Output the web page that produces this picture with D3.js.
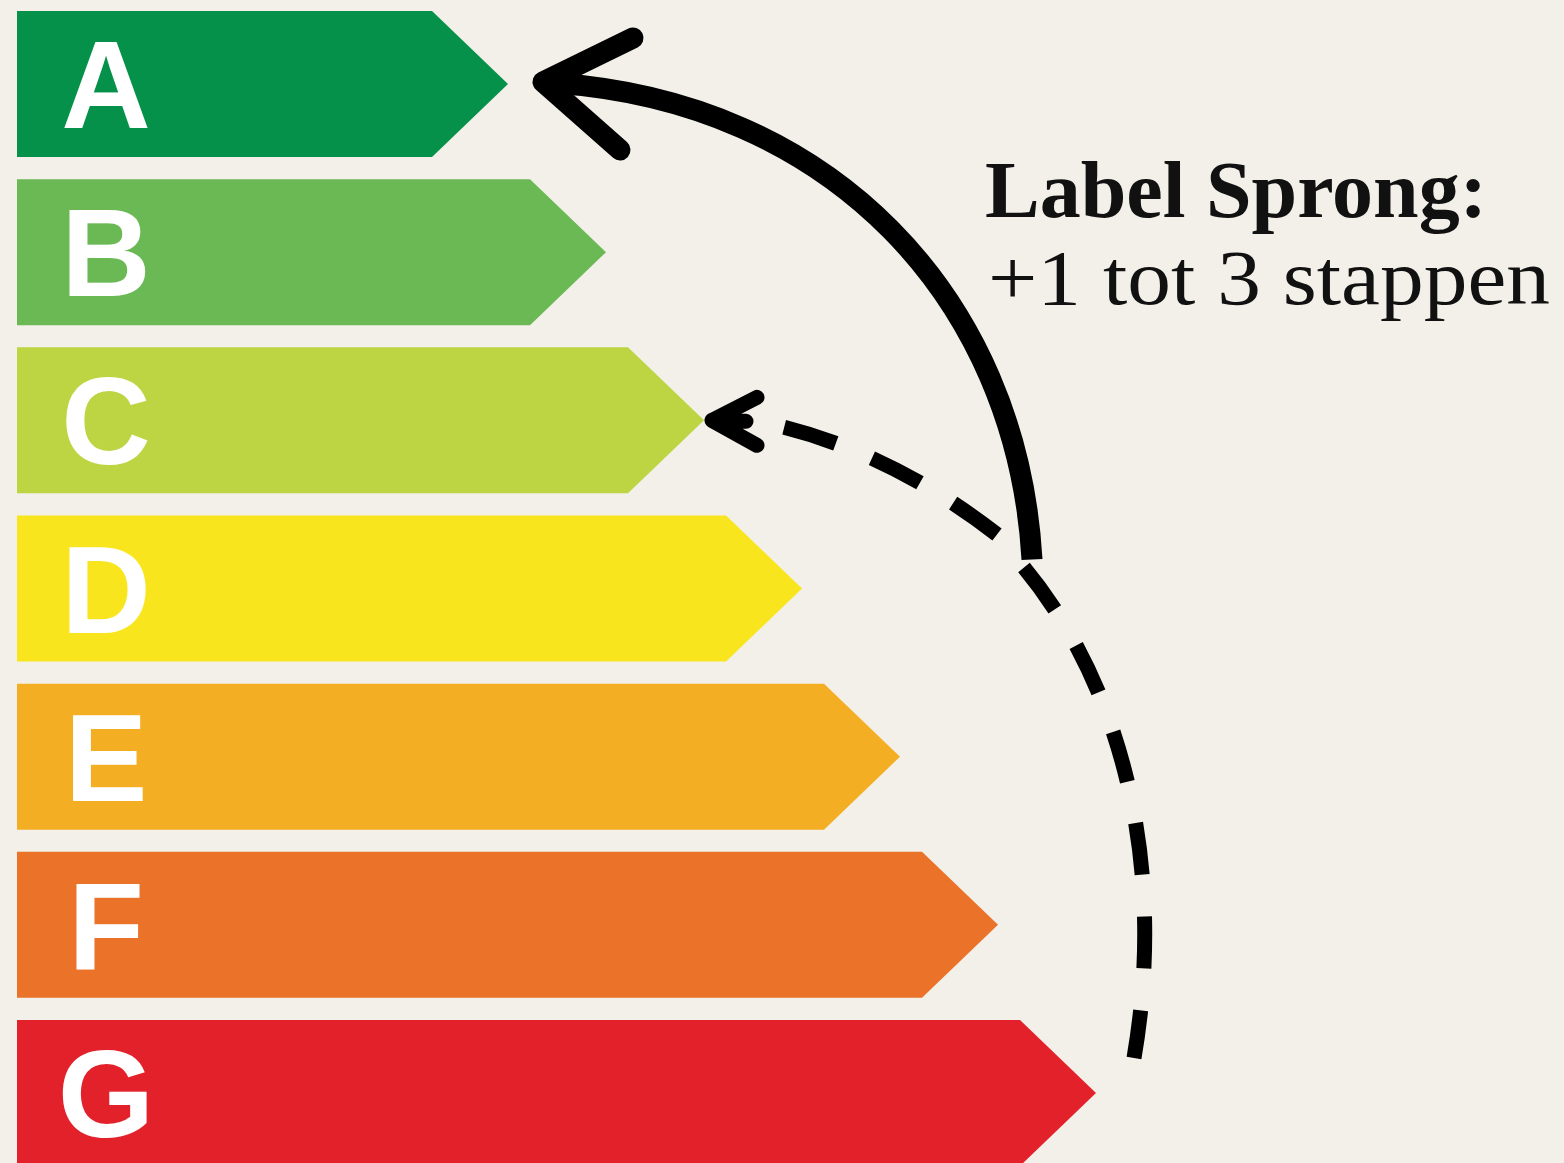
<!DOCTYPE html>
<html>
  <head>
    <meta charset="utf-8">
    <title>Label Sprong</title>
    <script src="https://cdn.jsdelivr.net/npm/d3@7"></script>
    <style>
      html, body { margin: 0; padding: 0; background: #f3f0e9; overflow: hidden; }
      svg { display: block; }
    </style>
  </head>
  <body>
    <script type="text/javascript">

    // energy label classes, best to worst
    var labels = ["A", "B", "C", "D", "E", "F", "G"];
    var steps = [1, 2, 3, 4, 5, 6, 7];
    var colors = ["#06914a", "#6bb955", "#bdd443", "#f8e51e", "#f4ae24", "#eb7229", "#e3212b"];

    // annotation
    var titleLines = ["Label Sprong:", "+1 tot 3 stappen"];

    var width = 1564,
        height = 1163;

    var svg = d3.select("body").append("svg")
        .attr("width", width)
        .attr("height", height);

    svg.append("rect")
        .attr("width", width)
        .attr("height", height)
        .attr("fill", "#f3f0e9");

    var y = d3.scaleBand()
        .domain(labels)
        .range([11, 1166])
        .paddingInner(0.132)
        .paddingOuter(0);

    // where the flat part of each bar ends
    var x = d3.scaleLinear()
        .domain([1, 7])
        .range([432, 1020]);

    var left = 17,
        tipLen = 76,
        bw = y.bandwidth();

    function barPath(d, i) {
      var top = y(d), bot = top + bw, end = x(steps[i]);
      return "M" + left + "," + top +
        "L" + end + "," + top +
        "L" + (end + tipLen) + "," + (top + bw / 2) +
        "L" + end + "," + bot +
        "L" + left + "," + bot + "Z";
    }

    var bars = svg.append("g").attr("class", "bars");

    bars.selectAll("path")
        .data(labels)
        .enter().append("path")
        .attr("d", barPath)
        .attr("fill", function(d, i) { return colors[i]; });

    bars.selectAll("text")
        .data(labels)
        .enter().append("text")
        .attr("x", 106)
        .attr("y", function(d) { return y(d) + bw / 2 + 44; })
        .attr("text-anchor", "middle")
        .attr("fill", "#fff")
        .style("font-family", "'Liberation Sans', Arial, sans-serif")
        .style("font-weight", "bold")
        .style("font-size", "124px")
        .text(function(d) { return d; });

    // arrow anchors, taken from the bars
    function tip(label) { return x(steps[labels.indexOf(label)]) + tipLen; }
    function mid(label) { return y(label) + bw / 2; }

    var arrows = svg.append("g")
        .attr("fill", "none")
        .attr("stroke", "#000")
        .attr("stroke-linecap", "round")
        .attr("stroke-linejoin", "round");

    // solid jump to A
    var ax = tip("A") + 35, ay = mid("A") - 2;
    var sx = tip("D") + 230, sy = y("D") + 44;
    var solid = d3.path();
    solid.moveTo(sx, sy);
    solid.bezierCurveTo(sx - 15, sy - 262, 830, ay + 18, ax + 8, ay + 1);
    arrows.append("path")
        .attr("d", solid.toString())
        .attr("stroke-width", 21)
        .attr("stroke-linecap", "butt");
    arrows.append("path")
        .attr("d", "M" + (ax + 90) + "," + (ay - 44) + "L" + ax + "," + ay + "L" + (ax + 77) + "," + (ay + 68))
        .attr("stroke-width", 21);

    // dashed path from G up to the split point (drawn top-down so a dash starts at the split)
    var gx = tip("G") + 38, gy = mid("G") - 35;
    var trunk = d3.path();
    trunk.moveTo(sx - 8, sy + 8);
    trunk.bezierCurveTo(gx - 12, gy - 372, gx + 33, gy - 192, gx, gy);
    arrows.append("path")
        .attr("d", trunk.toString())
        .attr("stroke-width", 15)
        .attr("stroke-linecap", "butt")
        .attr("stroke-dasharray", "52 42");

    // dashed branch to C
    var cx = tip("C") + 8, cy = mid("C");
    var branch = d3.path();
    branch.moveTo(sx - 35, sy - 25);
    branch.bezierCurveTo(945, 494, 860, 440, cx + 40, cy);
    arrows.append("path")
        .attr("d", branch.toString())
        .attr("stroke-width", 15)
        .attr("stroke-linecap", "butt")
        .attr("stroke-dasharray", "54 39");
    arrows.append("path")
        .attr("d", "M" + (cx + 45) + "," + (cy - 23) + "L" + cx + "," + cy + "L" + (cx + 45) + "," + (cy + 25) +
          "M" + cx + "," + cy + "L" + (cx + 34) + "," + (cy + 1))
        .attr("stroke-width", 15);

    // annotation text
    var note = svg.append("g")
        .attr("fill", "#111")
        .style("font-family", "'Liberation Serif', 'Times New Roman', serif");

    note.append("text")
        .attr("x", 985)
        .attr("y", 217)
        .style("font-weight", "bold")
        .style("font-size", "80px")
        .attr("textLength", 502)
        .attr("lengthAdjust", "spacingAndGlyphs")
        .text(titleLines[0]);

    note.append("text")
        .attr("x", 988)
        .attr("y", 304)
        .style("font-size", "78px")
        .attr("textLength", 562)
        .attr("lengthAdjust", "spacingAndGlyphs")
        .text(titleLines[1]);

    </script>
  </body>
</html>
